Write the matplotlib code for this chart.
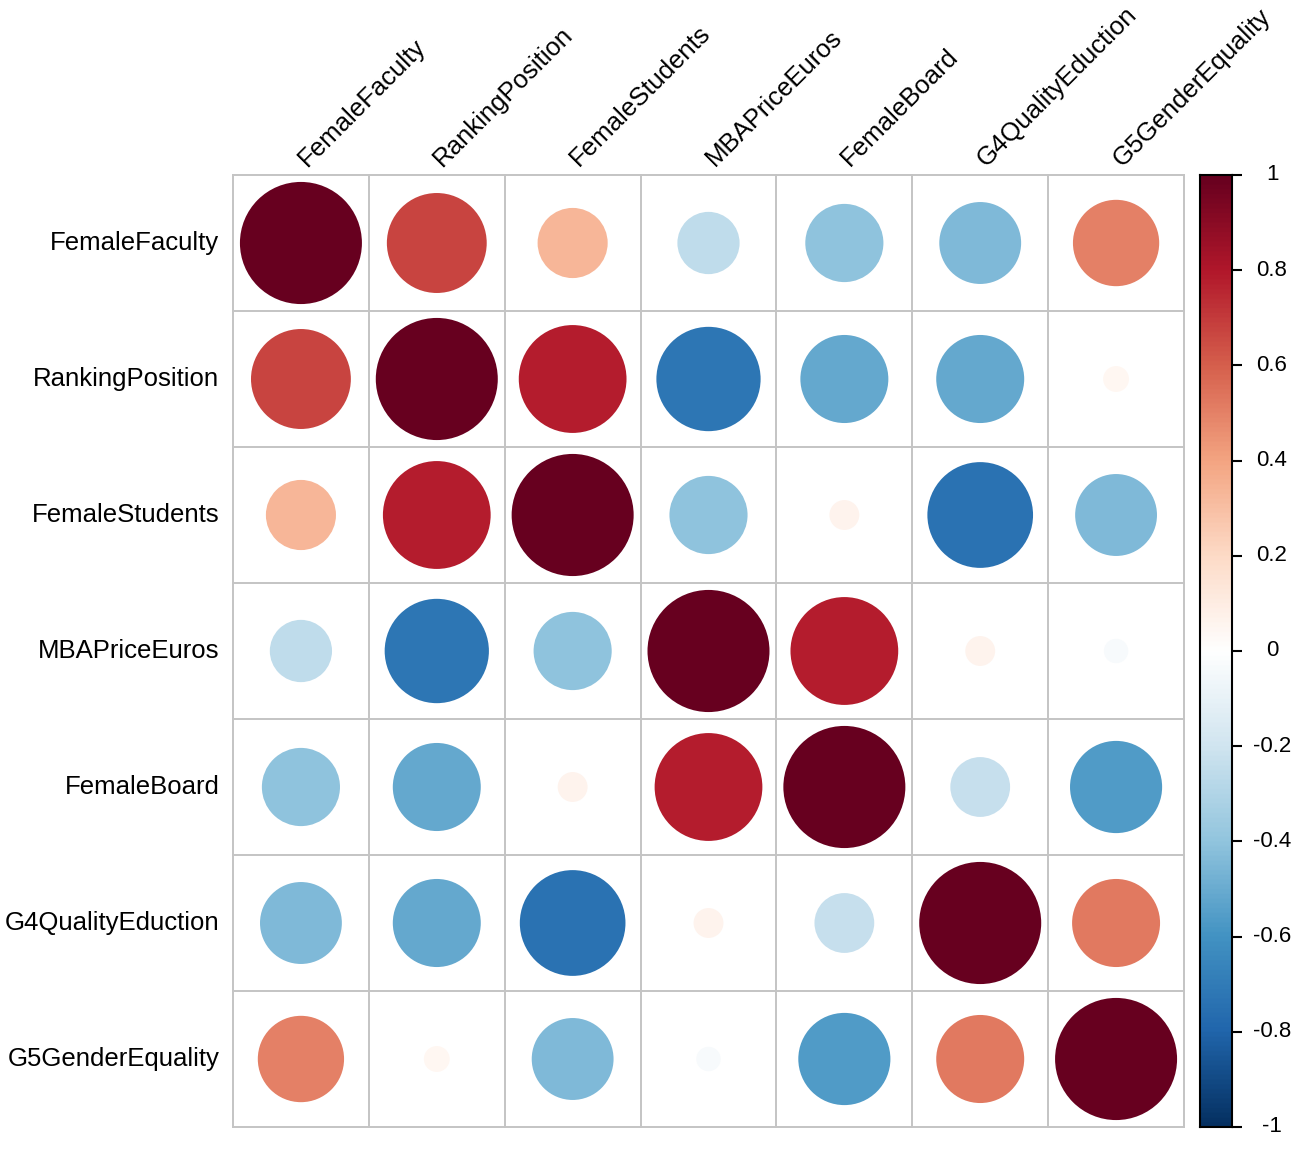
import numpy as np
import matplotlib
matplotlib.use("Agg")
import matplotlib.pyplot as plt
from matplotlib.colors import LinearSegmentedColormap
from matplotlib.patches import Circle

plt.rcParams['font.family'] = ['Liberation Sans', 'DejaVu Sans']

variables = ["FemaleFaculty", "RankingPosition", "FemaleStudents", "MBAPriceEuros",
             "FemaleBoard", "G4QualityEduction", "G5GenderEquality"]

row_FemaleFaculty   = [1.00, 0.67, 0.33, -0.26, -0.41, -0.45, 0.50]
row_RankingPosition = [0.67, 1.00, 0.78, -0.73, -0.52, -0.52, 0.045]
row_FemaleStudents  = [0.33, 0.78, 1.00, -0.41, 0.06, -0.75, -0.45]
row_MBAPriceEuros   = [-0.26, -0.73, -0.41, 1.00, 0.78, 0.06, -0.04]
row_FemaleBoard     = [-0.41, -0.52, 0.06, 0.78, 1.00, -0.24, -0.57]
row_G4QualityEduc   = [-0.45, -0.52, -0.75, 0.06, -0.24, 1.00, 0.52]
row_G5GenderEqual   = [0.50, 0.045, -0.45, -0.04, -0.57, 0.52, 1.00]

corr = np.array([row_FemaleFaculty, row_RankingPosition, row_FemaleStudents,
                 row_MBAPriceEuros, row_FemaleBoard, row_G4QualityEduc, row_G5GenderEqual])

cbar_ticks = [1, 0.8, 0.6, 0.4, 0.2, 0, -0.2, -0.4, -0.6, -0.8, -1]
cbar_labels = ["1", "0.8", "0.6", "0.4", "0.2", "0", "-0.2", "-0.4", "-0.6", "-0.8", "-1"]

cmap = LinearSegmentedColormap.from_list(
    "corrRdBu",
    ["#053061", "#2166AC", "#4393C3", "#92C5DE", "#D1E5F0", "#FFFFFF",
     "#FDDBC7", "#F4A582", "#D6604D", "#B2182B", "#67001F"], N=200)

W, H = 1303, 1153
fig = plt.figure(figsize=(W / 100, H / 100), dpi=100)

ax = fig.add_axes([233 / W, 1 - 1127 / H, 951 / W, 952 / H])
n = len(variables)
ax.set_xlim(0, n)
ax.set_ylim(n, 0)
for s in ax.spines.values():
    s.set_visible(False)
ax.set_xticks([])
ax.set_yticks([])

for i in range(n):
    for j in range(n):
        v = corr[i, j]
        r = 0.449 * np.sqrt(abs(v))
        ax.add_patch(Circle((j + 0.5, i + 0.5), r, facecolor=cmap((v + 1) / 2),
                            edgecolor='none'))

gridc = "#C4C4C4"
for k in range(n + 1):
    ax.plot([k, k], [0, n], color=gridc, lw=1.4, clip_on=False, zorder=3)
    ax.plot([0, n], [k, k], color=gridc, lw=1.4, clip_on=False, zorder=3)

for i, name in enumerate(variables):
    ax.text(-0.1, i + 0.5, name, ha='right', va='center', fontsize=18.5, color='black')
    ax.text(i + 0.57, -0.03, name, ha='left', va='bottom', rotation=45,
            rotation_mode='anchor', fontsize=18.5, color='black')

# colorbar
cax = fig.add_axes([1200 / W, 1 - 1127 / H, 32 / W, 952 / H])
grad = np.linspace(1, -1, 400).reshape(-1, 1)
cax.imshow(grad, aspect='auto', cmap=cmap, vmin=-1, vmax=1,
           extent=[0, 1, -1, 1])
cax.set_xlim(0, 1)
cax.set_ylim(-1, 1)
cax.set_xticks([])
cax.set_yticks(cbar_ticks)
cax.yaxis.tick_right()
cax.tick_params(axis='y', direction='out', length=7, width=1.5, color='black',
                labelright=False)
for t, lab in zip(cbar_ticks, cbar_labels):
    cax.text(2.25, t, lab, transform=cax.get_yaxis_transform(), ha='center',
             va='center', fontsize=16, color='black')
for s in cax.spines.values():
    s.set_color('black')
    s.set_linewidth(1.5)

fig.savefig("out.png", dpi=100, facecolor='white')
